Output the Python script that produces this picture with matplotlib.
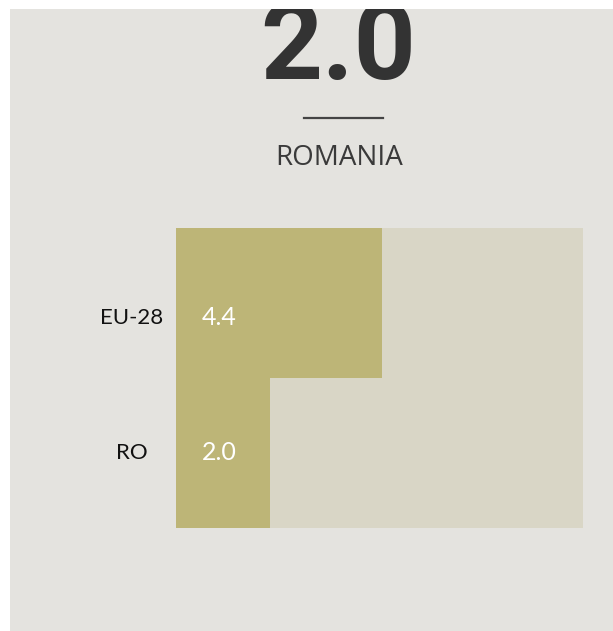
import matplotlib.pyplot as plt
from matplotlib.patches import Rectangle
from matplotlib.lines import Line2D

# data
labels = ["RO", "EU-28"]
values = [2.0, 4.4]
headline = "2.0"
country = "ROMANIA"
full_scale = 8.7  # value that fills the whole light track

W, H = 613, 631
panel_color = "#e4e3df"
track_color = "#d9d6c6"
bar_color = "#bdb577"
dark = "#333333"


def fx(px):
    return px / W


def fy(py):
    # pixel rows are counted from the top
    return 1 - py / H


fig = plt.figure(figsize=(W / 100, H / 100), dpi=100)
fig.patch.set_facecolor("white")

panel = Rectangle((fx(10), 0), 1 - fx(10), fy(9), transform=fig.transFigure,
                  facecolor=panel_color, edgecolor="none", zorder=-5)
fig.patches.append(panel)

# headline number, clipped by the panel top like in the original
big = fig.text(fx(338.5), fy(79), headline, ha="center", va="baseline",
               fontsize=78, fontweight="bold", family="Roboto", color=dark)
big.set_clip_path(panel)

fig.add_artist(Line2D([fx(304), fx(383)], [fy(118), fy(118)],
                      transform=fig.transFigure, color="#444444", lw=1.6))
fig.text(fx(339), fy(158), country, ha="center", va="center",
         fontsize=20, family="Open Sans", color="#3a3a3a")

# bars
ax = fig.add_axes([fx(176), fy(528), fx(583) - fx(176), fy(228) - fy(528)])
ax.set_zorder(2)
ax.set_facecolor("none")
y = list(range(len(labels)))
ax.barh(y, [full_scale] * len(labels), height=1.0, color=track_color)
ax.barh(y, values, height=1.0, color=bar_color)
ax.set_xlim(0, full_scale)
ax.set_ylim(-0.5, len(labels) - 0.5)
ax.axis("off")

# the labels sit a bit below the row centre in the original
label_shift = [0.0, -0.1]
for yi, lab, v, dy in zip(y, labels, values, label_shift):
    ax.text(full_scale * (-44 / 407), yi + dy, lab, ha="center", va="center",
            fontsize=16, family="Lato", color="#111111")
    ax.text(full_scale * (26 / 407), yi + dy, f"{v:.1f}", ha="left",
            va="center", fontsize=18, family="Lato", color="white")

plt.savefig("out.png", dpi=100, facecolor=fig.get_facecolor())
